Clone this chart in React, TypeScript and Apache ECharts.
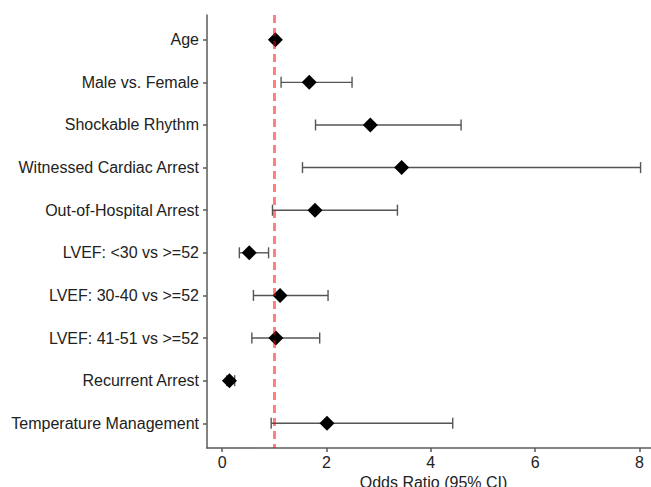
import React, { useEffect, useRef } from "react";
import * as echarts from "echarts";

const categories = [
  "Age",
  "Male vs. Female",
  "Shockable Rhythm",
  "Witnessed Cardiac Arrest",
  "Out-of-Hospital Arrest",
  "LVEF: <30 vs >=52",
  "LVEF: 30-40 vs >=52",
  "LVEF: 41-51 vs >=52",
  "Recurrent Arrest",
  "Temperature Management",
];
const oddsRatio = [1.02, 1.67, 2.84, 3.44, 1.78, 0.52, 1.11, 1.03, 0.14, 2.01];
const ciLow = [1.0, 1.13, 1.79, 1.54, 0.965, 0.33, 0.6, 0.57, 0.09, 0.94];
const ciHigh = [1.04, 2.49, 4.58, 8.02, 3.36, 0.89, 2.03, 1.87, 0.24, 4.42];
const xTicks = [0, 2, 4, 6, 8];
const refValue = 1;

export default function App() {
  const ref = useRef<HTMLDivElement>(null);
  useEffect(() => {
    if (!ref.current) return;
    const chart = echarts.init(ref.current, undefined, { renderer: "svg" });
    const axisColor = "#5a5a5a";
    const font = "'Liberation Sans', Arial, sans-serif";
    const idx = categories.map((_, i) => i);
    chart.setOption({
      animation: false,
      grid: {
        left: 207,
        right: 0,
        top: 15,
        bottom: 39,
        containLabel: false,
        outerBoundsMode: "none",
      },
      xAxis: {
        type: "value",
        min: -0.29,
        max: 8.22,
        splitLine: { show: false },
        axisLine: { show: true, onZero: false, lineStyle: { color: axisColor, width: 1.5 } },
        axisTick: { show: true, length: 4, customValues: xTicks, lineStyle: { color: axisColor, width: 1.5 } },
        axisLabel: {
          customValues: xTicks,
          color: "#222",
          fontSize: 16,
          fontFamily: font,
          margin: 6,
        },
        name: "Odds Ratio (95% CI)",
        nameLocation: "middle",
        nameGap: 23,
        nameTextStyle: { color: "#222", fontSize: 16, fontFamily: font, padding: [0, 0, 0, 9] },
      },
      yAxis: {
        type: "value",
        inverse: true,
        min: -0.58,
        max: 9.58,
        splitLine: { show: false },
        axisLine: { show: true, onZero: false, lineStyle: { color: axisColor, width: 1.5 } },
        axisTick: { show: true, length: 4, customValues: idx, lineStyle: { color: axisColor, width: 1.5 } },
        axisLabel: {
          customValues: idx,
          formatter: (v: number) => categories[Math.round(v)] ?? "",
          color: "#222",
          fontSize: 16,
          fontFamily: font,
          margin: 8,
        },
      },
      series: [
        {
          type: "custom",
          silent: true,
          z: 2,
          data: categories.map((_, i) => [ciLow[i], ciHigh[i], i]),
          encode: { x: [0, 1], y: 2 },
          renderItem: (params: any, api: any) => {
            const lo = api.coord([api.value(0), api.value(2)]);
            const hi = api.coord([api.value(1), api.value(2)]);
            const h = 5.5;
            const style = { stroke: "#555", lineWidth: 1.4 };
            return {
              type: "group",
              children: [
                { type: "line", shape: { x1: lo[0], y1: lo[1], x2: hi[0], y2: hi[1] }, style },
                { type: "line", shape: { x1: lo[0], y1: lo[1] - h, x2: lo[0], y2: lo[1] + h }, style },
                { type: "line", shape: { x1: hi[0], y1: hi[1] - h, x2: hi[0], y2: hi[1] + h }, style },
              ],
            };
          },
        },
        {
          type: "scatter",
          silent: true,
          z: 3,
          symbol: "diamond",
          symbolSize: 15,
          itemStyle: { color: "#000", opacity: 1 },
          data: categories.map((_, i) => [oddsRatio[i], i]),
        },
        {
          type: "scatter",
          silent: true,
          z: 5,
          data: [],
          markLine: {
            silent: true,
            symbol: "none",
            label: { show: false },
            lineStyle: { color: "rgba(255,0,0,0.5)", width: 3, type: [8, 5] },
            data: [{ xAxis: refValue }],
          },
        },
      ],
    });
    return () => chart.dispose();
  }, []);
  return <div ref={ref} style={{ width: 651, height: 487, position: "absolute", left: 0, top: 0 }} />;
}
